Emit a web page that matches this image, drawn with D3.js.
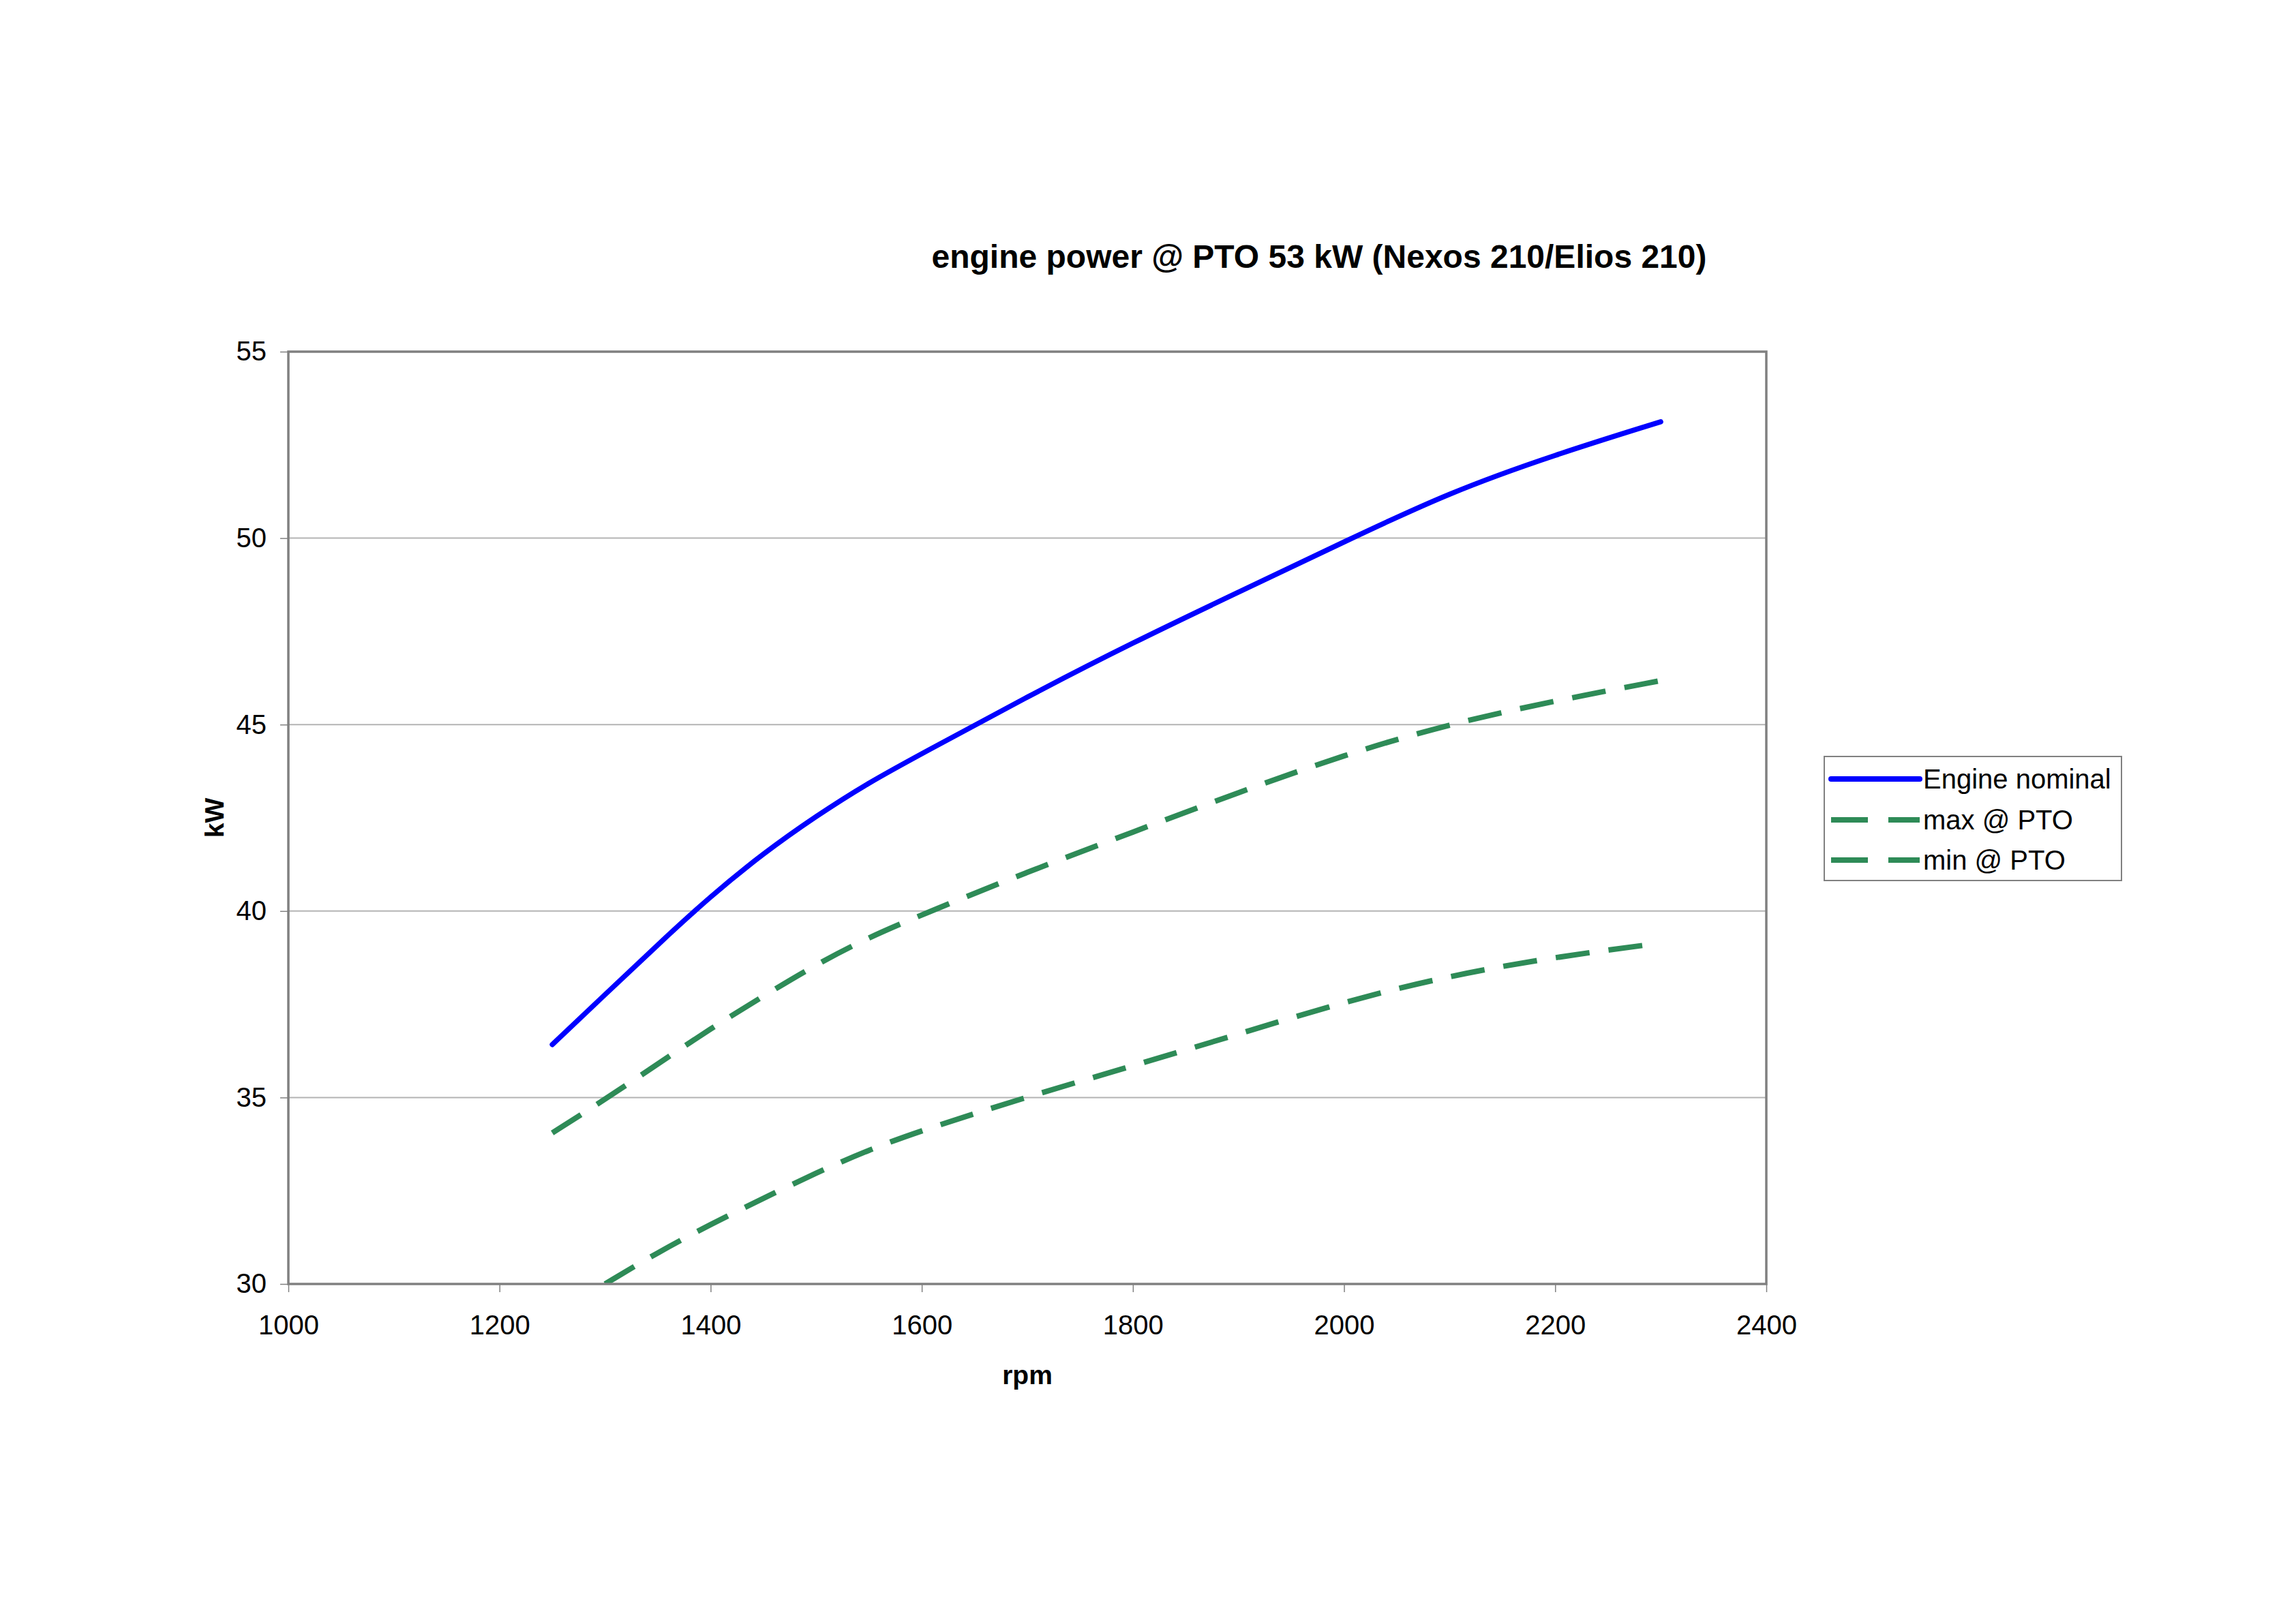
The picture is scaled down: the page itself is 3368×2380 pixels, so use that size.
<!DOCTYPE html>
<html>
<head>
<meta charset="utf-8">
<script src="https://cdn.jsdelivr.net/npm/d3@7"></script>
<style>
  html, body { margin: 0; padding: 0; background: #fff; }
  svg { display: block; font-family: "Liberation Sans", Arial, sans-serif; }
</style>
</head>
<body>
<svg id="chart" width="3368" height="2380"></svg>
<script>
// ---- data ----
const title = "engine power @ PTO 53 kW (Nexos 210/Elios 210)";
const xTicks = [1000, 1200, 1400, 1600, 1800, 2000, 2200, 2400];
const yTicks = [30, 35, 40, 45, 50, 55];
const nominalRpm = [1250, 1300, 1350, 1400, 1450, 1500, 1550, 1600, 1700, 1800, 1900, 2000, 2100, 2200, 2300];
const nominalKw  = [36.42, 37.76, 39.1, 40.4, 41.55, 42.55, 43.45, 44.22, 45.75, 47.2, 48.55, 49.9, 51.23, 52.24, 53.12];
const maxRpm = [1250, 1300, 1350, 1400, 1450, 1500, 1550, 1600, 1700, 1800, 1900, 2000, 2100, 2200, 2300];
const maxKw  = [34.05, 34.95, 35.9, 36.85, 37.72, 38.57, 39.3, 39.9, 41.05, 42.12, 43.18, 44.19, 45.02, 45.64, 46.18];
const minRpm = [1300, 1350, 1400, 1450, 1500, 1550, 1600, 1700, 1800, 1900, 2000, 2100, 2200, 2300];
const minKw  = [30.0, 30.85, 31.6, 32.3, 32.98, 33.6, 34.12, 35.02, 35.85, 36.7, 37.57, 38.27, 38.77, 39.14];
const seriesNames = ["Engine nominal", "max @ PTO", "min @ PTO"];

// ---- layout ----
const svg = d3.select("#chart");
const L = 423, R = 2591, T = 516, B = 1884;
const x = d3.scaleLinear().domain([1000, 2400]).range([L, R]);
const y = d3.scaleLinear().domain([30, 55]).range([B, T]);

const blue = "#0000FF", green = "#2E8B57";
const font = "Liberation Sans, Arial, sans-serif";

// gridlines
svg.append("g").selectAll("line").data(yTicks.filter(v => v > 30 && v < 55)).join("line")
  .attr("x1", L).attr("x2", R).attr("y1", d => y(d)).attr("y2", d => y(d))
  .attr("stroke", "#b4b4b4").attr("stroke-width", 2);

// axes ticks & labels
const xAxis = d3.axisBottom(x).tickValues(xTicks).tickSize(12).tickPadding(34).tickFormat(d3.format("d"));
const gx = svg.append("g").attr("transform", `translate(0,${B})`).call(xAxis);
gx.select(".domain").remove();
gx.selectAll(".tick line").attr("stroke", "#808080").attr("stroke-width", 1.5);
gx.selectAll("text").attr("font-size", 40).attr("fill", "#000").attr("font-family", font);

const yAxis = d3.axisLeft(y).tickValues(yTicks).tickSize(12).tickPadding(20);
const gy = svg.append("g").attr("transform", `translate(${L},0)`).call(yAxis);
gy.select(".domain").remove();
gy.selectAll(".tick line").attr("stroke", "#808080").attr("stroke-width", 1.5);
gy.selectAll("text").attr("font-size", 40).attr("fill", "#000").attr("font-family", font);

// clip
svg.append("clipPath").attr("id", "plotclip").append("rect")
  .attr("x", L).attr("y", T).attr("width", R - L).attr("height", B - T);

const line = d3.line().x(d => x(d[0])).y(d => y(d[1])).curve(d3.curveBasis);
const plot = svg.append("g").attr("clip-path", "url(#plotclip)");

plot.append("path").datum(d3.zip(minRpm, minKw)).attr("d", line)
  .attr("fill", "none").attr("stroke", green).attr("stroke-width", 8)
  .attr("stroke-dasharray", "50,28");
plot.append("path").datum(d3.zip(maxRpm, maxKw)).attr("d", line)
  .attr("fill", "none").attr("stroke", green).attr("stroke-width", 8)
  .attr("stroke-dasharray", "50,28");
plot.append("path").datum(d3.zip(nominalRpm, nominalKw)).attr("d", line)
  .attr("fill", "none").attr("stroke", blue).attr("stroke-width", 7.5)
  .attr("stroke-linecap", "round").attr("stroke-linejoin", "round");

// plot border
svg.append("rect").attr("x", L).attr("y", T).attr("width", R - L).attr("height", B - T)
  .attr("fill", "none").attr("stroke", "#808080").attr("stroke-width", 3.5);

// title
svg.append("text").attr("x", 1935).attr("y", 393).attr("text-anchor", "middle")
  .attr("font-size", 48).attr("font-weight", "bold").text(title);

// axis titles
svg.append("text").attr("x", (L + R) / 2).attr("y", 2031).attr("text-anchor", "middle")
  .attr("font-size", 39).attr("font-weight", "bold").text("rpm");
svg.append("text").attr("transform", `translate(328,${(T + B) / 2}) rotate(-90)`)
  .attr("text-anchor", "middle").attr("font-size", 39).attr("font-weight", "bold").text("kW");

// legend
const lg = svg.append("g");
lg.append("rect").attr("x", 2676).attr("y", 1110).attr("width", 436).attr("height", 182)
  .attr("fill", "#fff").attr("stroke", "#808080").attr("stroke-width", 2);
const rowsY = [1143, 1203, 1262];
const styles = [
  {c: blue, dash: null},
  {c: green, dash: "54,30"},
  {c: green, dash: "54,30"}
];
seriesNames.forEach((n, i) => {
  const ln = lg.append("line").attr("x1", 2686).attr("x2", 2816).attr("y1", rowsY[i]).attr("y2", rowsY[i])
    .attr("stroke", styles[i].c).attr("stroke-width", 8);
  if (styles[i].dash) ln.attr("stroke-dasharray", styles[i].dash);
  else ln.attr("stroke-linecap", "round");
  lg.append("text").attr("x", 2821).attr("y", rowsY[i] + 14).attr("font-size", 40).text(n);
});
</script>
</body>
</html>
